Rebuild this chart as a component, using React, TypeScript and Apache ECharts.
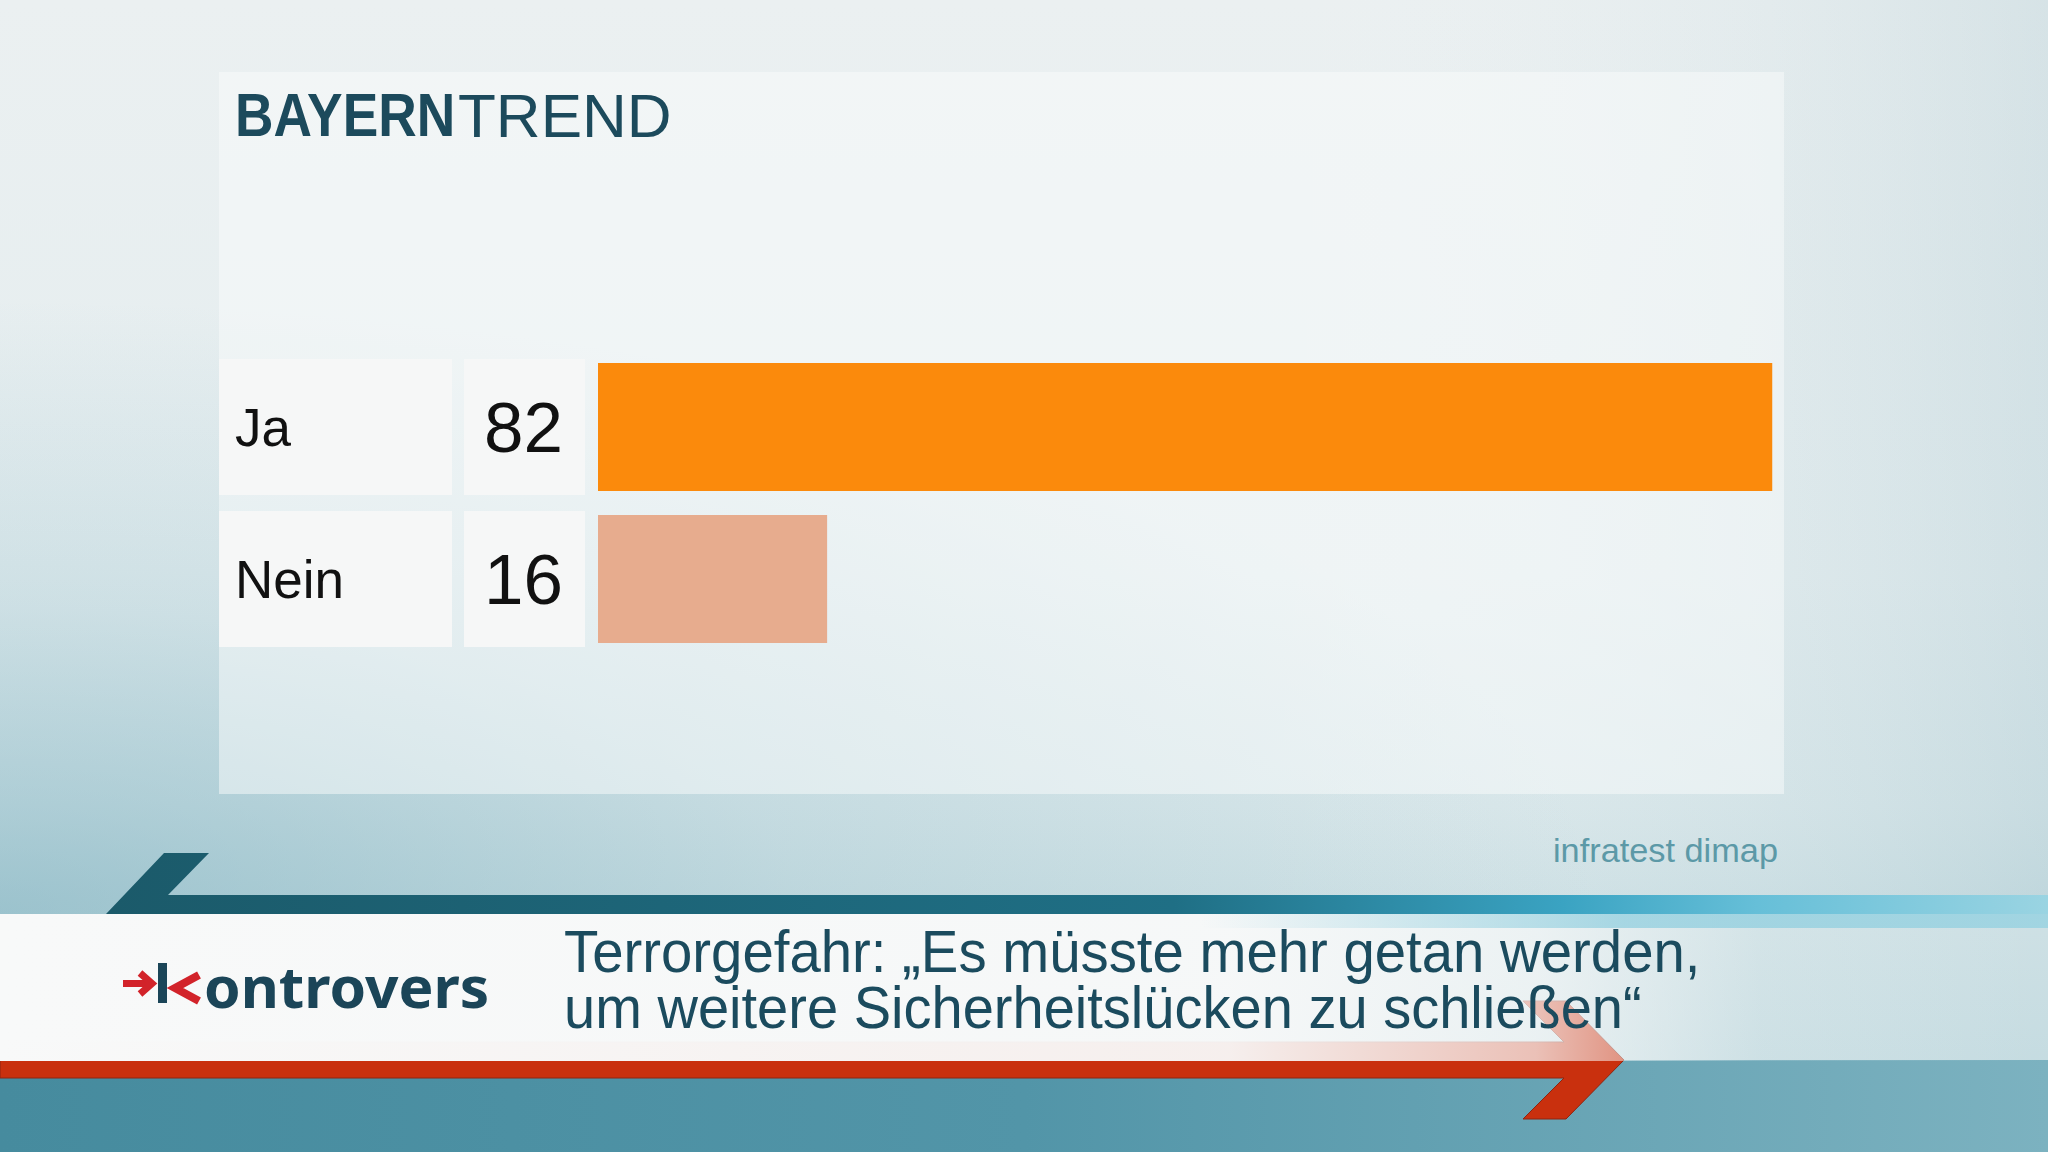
import React, { useEffect, useRef } from "react";
import * as echarts from "echarts";

const categories = ["Ja", "Nein"];
const values = [82, 16];
const barColors = ["#fb8a0c", "#e7ac8e"];
const brandBold = "BAYERN";
const brandLight = "TREND";
const source = "infratest dimap";
const titleLine1 = "Terrorgefahr: „Es müsste mehr getan werden,";
const titleLine2 = "um weitere Sicherheitslücken zu schließen“";
const showName = "ontrovers";

const LG = (x: number, y: number, x2: number, y2: number, stops: [number, string][]) =>
  new echarts.graphic.LinearGradient(x, y, x2, y2, stops.map(([offset, color]) => ({ offset, color })));
const RG = (x: number, y: number, r: number, stops: [number, string][]) =>
  new echarts.graphic.RadialGradient(x, y, r, stops.map(([offset, color]) => ({ offset, color })));

export default function App() {
  const ref = useRef<HTMLDivElement>(null);
  useEffect(() => {
    if (!ref.current) return;
    const chart = echarts.init(ref.current, undefined, { renderer: "svg" });
    const txt = (x: number, y: number, text: string, o: any, scaleX = 1, z = 20) => ({
      type: "text",
      x,
      y,
      scaleX,
      z,
      style: {
        text,
        fontFamily: "Liberation Sans",
        align: o.align || "left",
        textAlign: o.align || "left",
        verticalAlign: "middle",
        textVerticalAlign: "middle",
        ...o,
      },
    });
    const graphics: any[] = [
      // subtle background tints
      { type: "rect", z: -5, shape: { x: 0, y: 0, width: 2048, height: 900 }, style: { fill: LG(0, 0, 1, 0, [[0, "rgba(255,255,255,0)"], [0.6, "rgba(255,255,255,0)"], [1, "rgba(140,180,192,0.22)"]]) } },
      { type: "rect", z: -5, shape: { x: 0, y: 300, width: 1600, height: 614 }, style: { fill: RG(0, 1, 1, [[0, "rgba(105,165,182,0.5)"], [0.5, "rgba(105,165,182,0.18)"], [1, "rgba(105,165,182,0)"]]) } },
      // panel
      { type: "rect", z: -4, shape: { x: 219, y: 72, width: 1565, height: 722 }, style: { fill: "rgba(250,252,252,0.5)" } },
      // brand
      txt(235, 115, brandBold, { fontSize: 62, fontWeight: "bold", fill: "#1c4a5c" }, 0.86),
      txt(458, 115, brandLight, { fontSize: 62, fill: "#1c4a5c" }, 1),
      txt(1778, 851, source, { fontSize: 33, fill: "#5c99a7", align: "right" }, 1.04),
      // bottom teal area
      { type: "rect", z: 10, shape: { x: 0, y: 1060, width: 2048, height: 92 }, style: { fill: LG(0, 0, 1, 0, [[0, "#468b9e"], [0.5, "#5295a8"], [1, "#7cb2c0"]]) } },
      // red arrow
      {
        type: "polygon", z: 11,
        shape: { points: [[0, 1042], [1564, 1042], [1523, 1001], [1566, 1001], [1624, 1060], [1566, 1119], [1523, 1119], [1564, 1078], [0, 1078]] },
        style: { fill: "#c9300e", stroke: "#8e2410", lineWidth: 1 },
      },
      // white band
      { type: "rect", z: 12, shape: { x: 0, y: 914, width: 2048, height: 147 }, style: { fill: LG(0, 0, 1, 0, [[0, "rgba(248,249,249,1)"], [0.6, "rgba(248,249,249,0.95)"], [0.75, "rgba(248,249,249,0.72)"], [0.86, "rgba(248,249,249,0.15)"], [1, "rgba(248,249,249,0)"]]) } },
      // cyan under-band at right
      { type: "rect", z: 12, shape: { x: 1200, y: 914, width: 848, height: 14 }, style: { fill: LG(0, 0, 1, 0, [[0, "rgba(140,205,222,0)"], [0.5, "rgba(140,205,222,0.7)"], [1, "rgba(150,210,225,0.8)"]]) } },
      // dark teal band with chevron
      {
        type: "polygon", z: 13,
        shape: { points: [[164, 853], [209, 853], [168, 895], [2048, 895], [2048, 914], [106, 914]] },
        style: { fill: LG(0, 0, 1, 0, [[0, "#1b5a6a"], [0.55, "#1f6f85"], [0.75, "#3aa3c2"], [0.85, "#66bfd8"], [1, "#9ad4e2"]]) },
      },
      // kontrovers logo
      { type: "rect", z: 14, shape: { x: 123, y: 980, width: 28, height: 7 }, style: { fill: "#d2232a" } },
      { type: "polyline", z: 14, shape: { points: [[140, 973], [152, 983.5], [140, 994]] }, style: { stroke: "#d2232a", lineWidth: 7, fill: null } },
      { type: "rect", z: 14, shape: { x: 158, y: 963, width: 9, height: 40 }, style: { fill: "#1b4558" } },
      { type: "polyline", z: 14, shape: { points: [[199, 975], [175, 988], [199, 1001]] }, style: { stroke: "#d2232a", lineWidth: 8, fill: null } },
      txt(204, 986, showName, { fontSize: 57, fontWeight: "bold", fontFamily: "Noto Sans", fill: "#1b4558" }, 1.03, 14),
      // title
      txt(564, 952, titleLine1, { fontSize: 59, fill: "#1b4b5e" }, 0.955, 15),
      txt(564, 1007, titleLine2, { fontSize: 59, fill: "#1b4b5e" }, 0.95, 15),
    ];

    chart.setOption({
      animation: false,
      backgroundColor: LG(0, 0, 0, 1, [[0, "#ebf0f1"], [0.5, "#e4edef"], [0.7, "#d9e7ea"], [0.78, "#cfe1e5"], [1, "#c0d9df"]]),
      grid: { left: 598, top: 351, width: 1432, height: 304 },
      xAxis: { type: "value", min: 0, max: 100, show: false },
      yAxis: {
        type: "category",
        data: categories,
        inverse: true,
        axisLine: { show: false },
        axisTick: { show: false },
        splitLine: { show: false },
        axisLabel: {
          margin: 379,
          align: "left",
          verticalAlign: "middle",
          fontSize: 53,
          fontFamily: "Liberation Sans",
          color: "#111111",
          backgroundColor: "#f6f7f7",
          width: 217,
          height: 136,
          lineHeight: 136,
          padding: [0, 0, 0, 16],
        },
      },
      series: [
        {
          type: "bar",
          barWidth: 128,
          data: values.map((v, i) => ({ value: v, itemStyle: { color: barColors[i] } })),
          label: {
            show: true,
            position: "left",
            distance: 13,
            fontSize: 71,
            fontFamily: "Liberation Sans",
            color: "#111111",
            backgroundColor: "#f6f7f7",
            width: 99,
            height: 136,
            lineHeight: 136,
            padding: [0, 22, 0, 0],
            align: "right",
            verticalAlign: "middle",
          },
        },
      ],
      graphic: graphics,
    });
    return () => chart.dispose();
  }, []);
  return <div ref={ref} style={{ position: "fixed", left: 0, top: 0, width: 2048, height: 1152 }} />;
}
